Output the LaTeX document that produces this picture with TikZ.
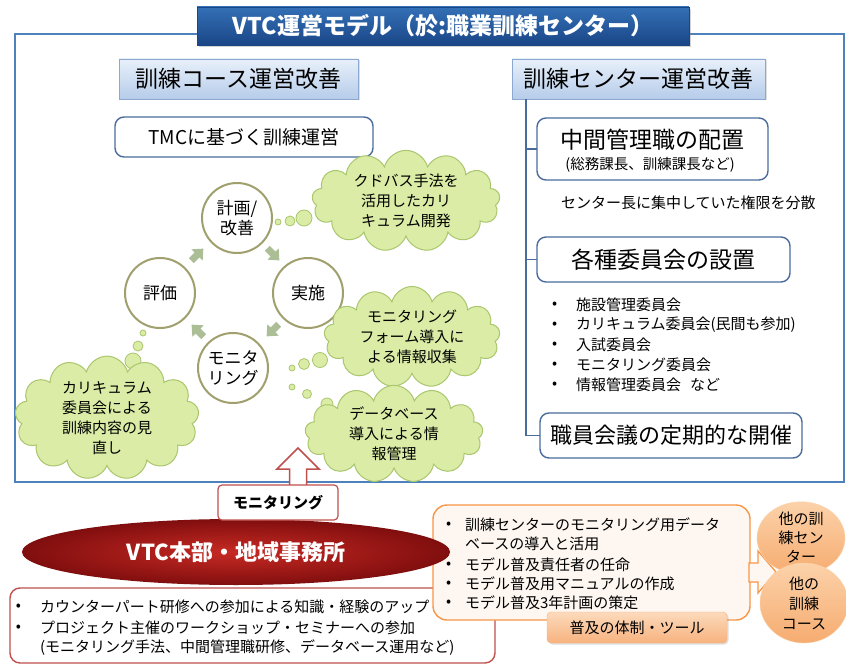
\documentclass[tikz,border=0pt]{standalone}
\usepackage{fontspec}
\setmainfont{Noto Sans CJK JP}
\usetikzlibrary{shapes.geometric,shapes.symbols,shadows}
\newcommand\fsz[2]{\fontsize{#1}{#2}\selectfont}
\definecolor{framec}{RGB}{79,129,189}
\definecolor{titletop}{RGB}{52,112,182}
\definecolor{titlebot}{RGB}{26,70,135}
\definecolor{sectop}{RGB}{232,240,250}
\definecolor{secbot}{RGB}{182,204,234}
\definecolor{secdraw}{RGB}{140,168,208}
\definecolor{slate}{RGB}{74,108,156}
\definecolor{circc}{RGB}{160,160,110}
\definecolor{cloudf}{RGB}{218,236,165}
\definecolor{cloudb}{RGB}{170,198,110}
\definecolor{chevc}{RGB}{172,190,150}
\definecolor{redc}{RGB}{192,80,77}
\definecolor{redin}{RGB}{200,42,36}
\definecolor{redout}{RGB}{128,14,14}
\definecolor{orangec}{RGB}{247,150,70}
\definecolor{orangel}{RGB}{254,247,241}
\definecolor{tabtop}{RGB}{252,218,188}
\definecolor{tabbot}{RGB}{247,178,126}
\definecolor{oetop}{RGB}{252,210,170}
\definecolor{oebot}{RGB}{246,172,112}
\tikzset{
  titlebox/.style={rectangle, top color=titletop, bottom color=titlebot, draw=titlebot, text=white,
    drop shadow={opacity=0.35, shadow xshift=2pt, shadow yshift=-2pt}},
  secbox/.style={rectangle, top color=sectop, bottom color=secbot, draw=secdraw, line width=0.8pt,
    drop shadow={opacity=0.25, shadow xshift=1.5pt, shadow yshift=-1.5pt}, font={\fsz{23}{27}}},
  rbox/.style={rectangle, rounded corners=9pt, draw=slate, line width=1.4pt, fill=white},
  cyc/.style={circle, draw=circc, line width=2pt, fill=white, minimum size=70pt, align=center, font={\fsz{17}{20}}},
  cloudn/.style={cloud, cloud puffs=13, cloud ignores aspect, draw=cloudb, fill=cloudf, line width=1pt,
    align=center, font={\fsz{15}{20}}},
  bubble/.style={draw=cloudb, fill=cloudf, line width=0.8pt},
  tree/.style={draw=slate, line width=1.3pt},
  chev/.pic={\fill[chevc] (-8,-3.5) -- (0,-3.5) -- (0,-8) -- (9,0) -- (0,8) -- (0,3.5) -- (-8,3.5) -- cycle;},
  lst/.style={anchor=west, font={\fsz{15}{18}}},
}
\begin{document}
\begin{tikzpicture}[x=1pt,y=-1pt, every node/.style={inner sep=0pt, outer sep=0pt}]
\useasboundingbox (0,0) rectangle (846,666);
\fill[white] (0,0) rectangle (846,666);

% main frame
\node (frame) [draw=framec, line width=2pt, minimum width=829pt, minimum height=448pt] at (429.5,258) {};
\node (title) [titlebox, minimum width=492pt, minimum height=38pt] at (443,26) {\fsz{23}{26}\bfseries VTC運営モデル（於:職業訓練センター）};

% left section
\node (sec1) [secbox, minimum width=239pt, minimum height=40pt] at (238.5,79) {訓練コース運営改善};
\node (tmc) [rbox, minimum width=258pt, minimum height=40pt, font={\fsz{19}{22}}] at (244,137) {TMCに基づく訓練運営};

\node (plan) [cyc] at (237,218) {計画/\\改善};
\node (eval) [cyc] at (160,293) {評価};
\node (do)   [cyc] at (308,293) {実施};
\node (mon)  [cyc] at (233,368) {モニタ\\リング};

\pic[rotate=45] at (197,255) {chev};
\pic[rotate=-45] at (273,254) {chev};
\pic[rotate=-135] at (273,330) {chev};
\pic[rotate=135] at (198,331) {chev};

% clouds and bubbles
\draw[bubble] (278,222) circle (3);
\draw[bubble] (290,221) circle (5);
\draw[bubble] (304,218) circle (8);
\node (c1) [cloudn, minimum width=188pt, minimum height=80pt] at (406,201) {クドバス手法を\\活用したカリ\\キュラム開発};

\draw[bubble] (292,368) circle (3);
\draw[bubble] (304,364) circle (5.5);
\draw[bubble] (320,360) circle (7.5);
\node (c2) [cloudn, minimum width=176pt, minimum height=80pt] at (412,337) {モニタリング\\フォーム導入に\\よる情報収集};

\draw[bubble] (292,387) circle (3);
\draw[bubble] (307,394) circle (4.5);
\draw[bubble] (327,404) circle (6);
\node (c3) [cloudn, minimum width=178pt, minimum height=64pt] at (394,434) {データベース\\導入による情\\報管理};

\draw[bubble] (143,333) circle (3);
\draw[bubble] (138,346) circle (5);
\draw[bubble] (133,361) circle (8);
\node (c4) [cloudn, minimum width=184pt, minimum height=100pt] at (107,418) {カリキュラム\\委員会による\\訓練内容の見\\直し};

% right section
\node (sec2) [secbox, minimum width=253pt, minimum height=40pt] at (638.5,79) {訓練センター運営改善};
\node (mgr) [rbox, minimum width=231pt, minimum height=62pt] at (652.5,149) {};
\node (mgrt) [font={\fsz{23}{26}}] at (652.5,140) {中間管理職の配置};
\node (mgrs) [font={\fsz{14.5}{17}}] at (650,165) {(総務課長、訓練課長など)};
\node (note) [anchor=west, font={\fsz{15}{18}}] at (561,203) {センター長に集中していた権限を分散};
\node (comm) [rbox, minimum width=253pt, minimum height=45pt, font={\fsz{23}{26}}] at (663.5,259.5) {各種委員会の設置};
\foreach \t [count=\i] in {施設管理委員会, カリキュラム委員会(民間も参加), 入試委員会, モニタリング委員会, 情報管理委員会\hspace{0.6em}など}{
  \node (bd\i) [lst] at (552,{285+20*\i}) {•};
  \node (bt\i) [lst] at (576,{285+20*\i}) {\t};
}
\node (staff) [rbox, minimum width=262pt, minimum height=45pt, font={\fsz{22}{26}}] at (671,435.5) {職員会議の定期的な開催};

\coordinate (trunk) at (526,99);
\draw[tree] (trunk) |- (staff.west);
\draw[tree] (trunk |- mgr.west) -- (mgr.west);
\draw[tree] (trunk |- comm.west) -- (comm.west);

% bottom part
\node (redbox) [draw=redc, line width=1.4pt, rounded corners=10pt, fill=white, minimum width=485pt, minimum height=75pt] at (252.5,625.5) {};
\node (obox) [draw=orangec, line width=1.4pt, rounded corners=14pt, fill=orangel, minimum width=317pt, minimum height=115pt] at (591.5,562.5) {};
\node (rd1) [lst] at (16,607) {•};
\node (rt1) [lst] at (40,607) {カウンターパート研修への参加による知識・経験のアップ};
\node (rd2) [lst] at (16,628) {•};
\node (rt2) [lst] at (40,628) {プロジェクト主催のワークショップ・セミナーへの参加};
\node (rt3) [lst] at (40,648) {(モニタリング手法、中間管理職研修、データベース運用など)};

\node (od1) [lst] at (446,525) {•};
\node (ot1) [lst] at (465,525) {訓練センターのモニタリング用データ};
\node (ot1b) [lst] at (465,544) {ベースの導入と活用};
\node (od2) [lst] at (446,565) {•};
\node (ot2) [lst] at (465,565) {モデル普及責任者の任命};
\node (od3) [lst] at (446,584) {•};
\node (ot3) [lst] at (465,584) {モデル普及用マニュアルの作成};
\node (od4) [lst] at (446,603) {•};
\node (ot4) [lst] at (465,603) {モデル普及3年計画の策定};
\node (tab) [rectangle, rounded corners=4pt, top color=tabtop, bottom color=tabbot, draw=tabbot,
  drop shadow={opacity=0.25, shadow xshift=1.5pt, shadow yshift=-1.5pt},
  minimum width=180pt, minimum height=31pt, font={\fsz{15}{18}}] at (637,627.5) {普及の体制・ツール};

\node (hq) [ellipse, inner color=redin, outer color=redout, minimum width=428pt, minimum height=66pt,
  text=white, font={\fsz{22}{26}\bfseries}] at (236,552) {VTC本部・地域事務所};

\draw[redc, line width=1.5pt, fill=white] (298,448) -- (319,469) -- (306.5,469) -- (306.5,492) -- (289.5,492) -- (289.5,469) -- (277,469) -- cycle;
\node (monbox) [draw=redc, line width=1.2pt, rounded corners=4pt, fill=white, minimum width=120pt, minimum height=35pt,
  font={\fsz{15}{18}\bfseries}] at (278,502.5) {モニタリング};

\draw[orangec, line width=1.3pt, fill=orangel] (749,563) -- (758,563) -- (758,551) -- (776,572) -- (758,593) -- (758,582) -- (749,582) -- cycle;

\node (oe1) [ellipse, top color=oetop, bottom color=oebot, draw=oetop, minimum width=88pt, minimum height=72pt,
  align=center, font={\fsz{15}{19}}] at (801,538) {他の訓\\練セン\\ター};
\node (oe2) [ellipse, top color=oetop, bottom color=oebot, draw=oetop, minimum width=88pt, minimum height=80pt,
  align=center, font={\fsz{15}{20}}] at (804,603) {他の\\訓練\\コース};
\end{tikzpicture}
\end{document}
